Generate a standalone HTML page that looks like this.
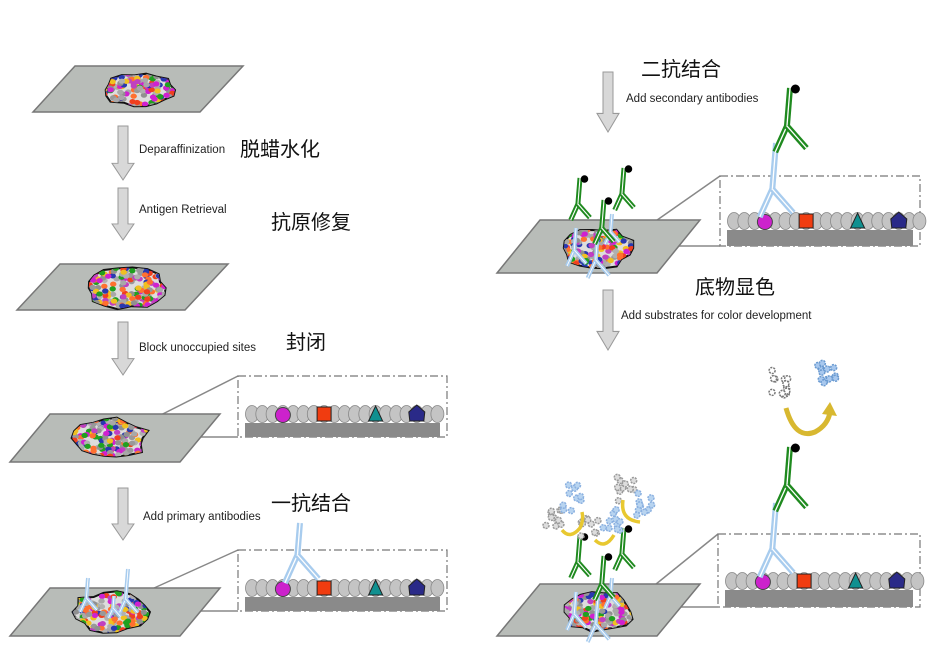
<!DOCTYPE html>
<html><head><meta charset="utf-8"><style>
body{margin:0;background:#fff}
svg{display:block}
.en{font-family:"Liberation Sans",sans-serif;font-size:11.5px;fill:#222}
.cn{font-family:"Liberation Sans","Noto Sans CJK SC",sans-serif;font-size:20px;fill:#111}
</style></head><body>
<svg id="s" width="951" height="651" viewBox="0 0 951 651" xmlns="http://www.w3.org/2000/svg">
<defs>
<g id="arrow"><polygon points="-5,0 5,0 5,38 11,38 0,55 -11,38 -5,38" fill="#d8d8d8" stroke="#999" stroke-width="1"/></g>
</defs>
<g id="main"></g>
<text class="en" x="139" y="153">Deparaffinization</text>
<text class="cn" x="240" y="156">脱蜡水化</text>
<text class="en" x="139" y="213">Antigen Retrieval</text>
<text class="cn" x="271" y="229">抗原修复</text>
<text class="en" x="139" y="351">Block unoccupied sites</text>
<text class="cn" x="286" y="349">封闭</text>
<text class="en" x="143" y="520">Add primary antibodies</text>
<text class="cn" x="271" y="510">一抗结合</text>
<text class="cn" x="641" y="76">二抗结合</text>
<text class="en" x="626" y="102">Add secondary antibodies</text>
<text class="cn" x="695" y="294">底物显色</text>
<text class="en" x="621" y="319">Add substrates for color development</text>
</svg>
<script>
var NS="http://www.w3.org/2000/svg",M=document.getElementById('main');
function el(t,a,p){var e=document.createElementNS(NS,t);for(var k in a)e.setAttribute(k,a[k]);(p||M).appendChild(e);return e;}
var seed=7;function rnd(){seed=(seed*9301+49297)%233280;return seed/233280;}
function slide(p){el('polygon',{points:p,fill:'#b8bcb8',stroke:'#777','stroke-width':1.5});}
function arrow(x,y,h){var s=h/55;el('use',{href:'#arrow',transform:'translate('+x+','+y+') scale(1,'+s+')'});}
var cols=['#d020d0','#f04020','#20a020','#2838b0','#909090','#f0c020','#a8a8a8','#ff7030','#c040c0','#999999','#b0b0b0'];
var bid=0;
function blob(cx,cy,w,h){bid++;var pts=[],n=18;for(var i=0;i<n;i++){var a=i/n*Math.PI*2,r=0.85+rnd()*0.25;pts.push([cx+Math.cos(a)*w/2*r,cy+Math.sin(a)*h/2*r]);}
var d='M'+pts.map(function(p){return p[0].toFixed(1)+','+p[1].toFixed(1)}).join('L')+'Z';
var cp=el('clipPath',{id:'c'+bid});el('path',{d:d},cp);
el('path',{d:d,fill:'#ddd',stroke:'#111','stroke-width':2});
var g=el('g',{'clip-path':'url(#c'+bid+')'});
for(var i=0;i<w*h/16;i++){el('ellipse',{cx:cx-w/2+rnd()*w,cy:cy-h/2+rnd()*h,rx:3.2,ry:2.6,fill:cols[Math.floor(rnd()*cols.length)]},g);}}
function box(x,y,w,h,by){el('rect',{x:x,y:y,width:w,height:h,fill:'none',stroke:'#777','stroke-width':1.2,'stroke-dasharray':'8,3,2,3'});
el('rect',{x:x+7,y:by,width:w-14,height:y+h-by,fill:'#8a8a8a'});
var cx=x+14,cy=by-9;
for(var i=0;i<19;i++){var xx=cx+i*10.3;el('ellipse',{cx:xx,cy:cy,rx:6.5,ry:8.5,fill:'#c4c4c4',stroke:'#888','stroke-width':0.8});}
var m=cx+3*10.3;el('circle',{cx:m,cy:cy+1,r:7.5,fill:'#cc22cc',stroke:'#444'});
var q=cx+7*10.3;el('rect',{x:q-7,y:cy-7,width:14,height:14,fill:'#f03c10',stroke:'#222'});
var t=cx+12*10.3;el('polygon',{points:(t-7)+','+(cy+7)+' '+t+','+(cy-8)+' '+(t+7)+','+(cy+7),fill:'#109090',stroke:'#222'});
var p=cx+16*10.3;el('polygon',{points:(p-7)+','+(cy+7)+' '+(p-8)+','+(cy-2)+' '+p+','+(cy-9)+' '+(p+8)+','+(cy-2)+' '+(p+7)+','+(cy+7),fill:'#2a2a88',stroke:'#222'});}
function line(x1,y1,x2,y2){el('line',{x1:x1,y1:y1,x2:x2,y2:y2,stroke:'#888','stroke-width':1.5});}
function dbl(pts,c,w){var d='M'+pts.join('L');el('path',{d:d,fill:'none',stroke:c,'stroke-width':w,'stroke-linecap':'butt','stroke-linejoin':'round'});el('path',{d:d,fill:'none',stroke:'#fff','stroke-width':w*0.22});}
function ab(x,y,L,a,c,w,dot){var bx=x-L*0.08,by=y+L;dbl([[x,y],[bx,by]],c,w);dbl([[bx,by],[bx-a*0.45,by+a]],c,w);dbl([[bx,by],[bx+a*0.75,by+a*0.85]],c,w);if(dot)el('circle',{cx:x+w*0.9,cy:y+1,r:w*0.75,fill:'#000'});}
function cluster(cx,cy,c,fill,n){n=n||10;for(var i=0;i<n;i++){var x=cx+(rnd()-0.5)*20,y=cy+(rnd()-0.5)*26;el('circle',{cx:x,cy:y,r:3,fill:fill,stroke:c,'stroke-width':1.5,'stroke-dasharray':'2,1'});}}
// slides
slide('33,112 75,66 243,66 200,112');blob(140,90,72,34);
slide('17,310 60,264 228,264 185,310');blob(125,288,82,40);
line(135,428,238,376);line(150,437,238,437);
slide('10,462 50,414 220,414 180,462');blob(110,438,76,40);
line(132,598,238,550);line(150,611,238,611);
slide('10,636 50,588 220,588 180,636');blob(110,612,76,40);
line(640,232,720,176);line(655,246,720,246);
slide('497,273 540,220 700,220 657,273');blob(598,248,70,40);
line(640,597,718,534);line(655,607,718,607);
slide('497,636 540,584 700,584 657,636');blob(598,612,70,40);
arrow(123,126,54);arrow(123,188,52);arrow(123,322,53);arrow(123,488,52);arrow(608,72,60);arrow(608,290,60);
box(238,376,209,61,423);box(238,550,209,61,597);box(720,176,200,70,230);box(718,534,202,73,590);
// box antibodies
ab(300,523,32,28,'#a8ccee',6);
ab(776,143,46,28,'#a8ccee',6);ab(790,88,38,26,'#1f8a1f',6,1);
ab(776,503,46,28,'#a8ccee',6);ab(790,447,38,26,'#1f8a1f',6,1);
// slide antibodies
ab(88,578,20,14,'#a8ccee',4);ab(128,569,30,16,'#a8ccee',4);ab(114,596,12,10,'#a8ccee',4);
ab(576,228,22,16,'#a8ccee',4);ab(598,232,28,18,'#a8ccee',4);ab(612,214,18,12,'#a8ccee',4);
ab(580,178,26,16,'#1f8a1f',5,1);ab(604,200,28,16,'#1f8a1f',5,1);ab(624,168,26,16,'#1f8a1f',5,1);
ab(576,592,22,16,'#a8ccee',4);ab(598,596,28,18,'#a8ccee',4);ab(612,578,18,12,'#a8ccee',4);
ab(580,536,26,16,'#1f8a1f',5,1);ab(604,556,28,16,'#1f8a1f',5,1);ab(624,528,26,16,'#1f8a1f',5,1);
// substrate
cluster(780,383,'#777','#fff',12);cluster(826,376,'#6a9ad0','#a8c8ee',12);
el('path',{d:'M786,408 Q795,440 815,432 Q828,425 830,412',fill:'none',stroke:'#d8b830','stroke-width':5});
el('polygon',{points:'822,414 830,402 837,416',fill:'#d8b830'});
cluster(553,522,'#999','#ddd');cluster(572,498,'#8ab0e0','#b8d4f0');cluster(588,524,'#999','#ddd');
cluster(624,488,'#999','#ddd');cluster(612,518,'#8ab0e0','#b8d4f0');cluster(644,506,'#8ab0e0','#b8d4f0');
el('path',{d:'M562,530 Q570,540 580,528 Q584,520 582,512',fill:'none',stroke:'#e8c830','stroke-width':3.5});
el('path',{d:'M595,540 Q605,550 614,535',fill:'none',stroke:'#e8c830','stroke-width':3.5});
el('path',{d:'M623,500 Q620,520 640,522',fill:'none',stroke:'#e8c830','stroke-width':3.5});
</script>
</body></html>
